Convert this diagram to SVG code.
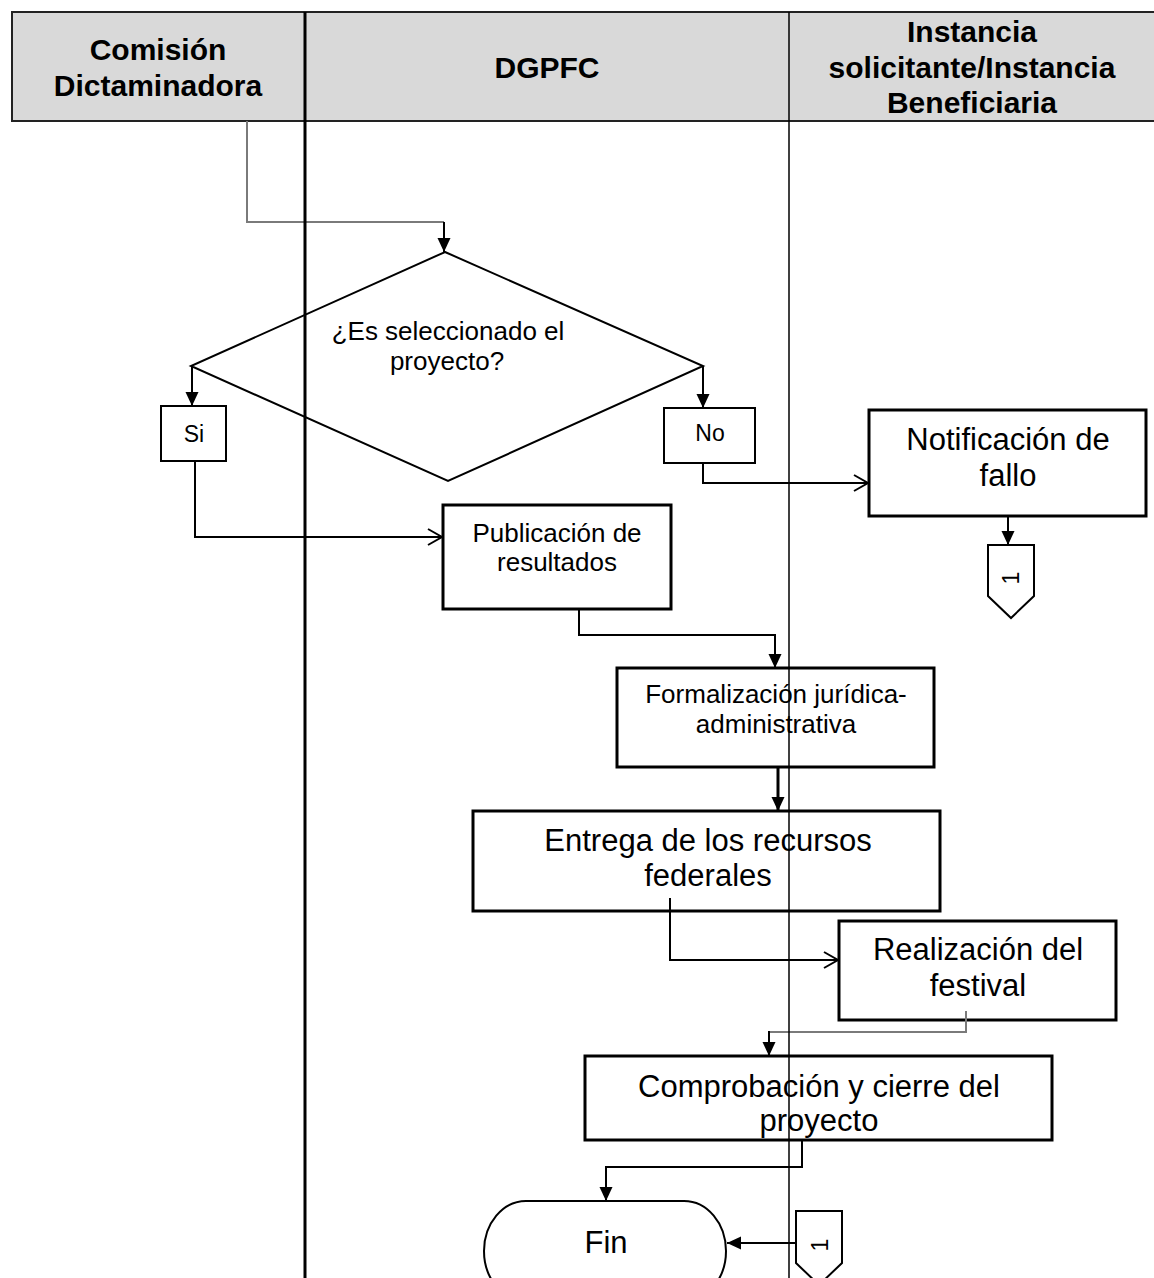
<svg xmlns="http://www.w3.org/2000/svg" width="1154" height="1278" viewBox="0 0 1154 1278">
<style>
  .hdr { font-family: "Liberation Sans", Arial, sans-serif; font-weight: bold; font-size: 30px; fill: #000; text-anchor: middle; }
  .t { font-family: "Liberation Sans", Arial, sans-serif; fill: #000; text-anchor: middle; }
  .big { font-size: 31px; }
  .mid { font-size: 26px; }
  .sm { font-size: 23px; }
  .box { fill: #fff; stroke: #000; stroke-width: 3; }
  .thin { fill: #fff; stroke: #000; stroke-width: 2; }
  .ln { fill: none; stroke: #000; stroke-width: 2; }
  .gl { fill: none; stroke: #7a7a7a; stroke-width: 2; }
</style>
<defs>
  <marker id="af" markerUnits="userSpaceOnUse" markerWidth="14" markerHeight="14" refX="14" refY="7" orient="auto">
    <path d="M0,0.5 L14,7 L0,13.5 Z" fill="#000"/>
  </marker>
  <marker id="ao" markerUnits="userSpaceOnUse" markerWidth="18" markerHeight="20" refX="16" refY="10" orient="auto">
    <path d="M2,2 L16,10 L2,18" fill="none" stroke="#000" stroke-width="2"/>
  </marker>
</defs>
<rect width="1154" height="1278" fill="#fff"/>

<g id="header">
  <rect x="12" y="12" width="1160" height="109" fill="#d9d9d9" stroke="#222" stroke-width="2"/>
  <text class="hdr" x="158" y="60">Comisión</text>
  <text class="hdr" x="158" y="96">Dictaminadora</text>
  <text class="hdr" x="547" y="78">DGPFC</text>
  <text class="hdr" x="972" y="42">Instancia</text>
  <text class="hdr" x="972" y="78">solicitante/Instancia</text>
  <text class="hdr" x="972" y="113">Beneficiaria</text>
</g>

<g id="decision">
  <path d="M445,252 L703,366 L448,481 L191,366 Z" fill="#fff" stroke="#000" stroke-width="2"/>
  <text class="t mid" x="448" y="340">¿Es seleccionado el</text>
  <text class="t mid" x="447" y="370">proyecto?</text>
</g>
<g id="si">
  <rect class="thin" x="161" y="406" width="65" height="55"/>
  <text class="t sm" x="194" y="442">Si</text>
</g>
<g id="no">
  <rect class="thin" x="664" y="408" width="91" height="55"/>
  <text class="t sm" x="710" y="441">No</text>
</g>
<g id="notificacion">
  <rect class="box" x="869" y="410" width="277" height="106"/>
  <text class="t big" x="1008" y="450">Notificación de</text>
  <text class="t big" x="1008" y="486">fallo</text>
</g>
<g id="conector1">
  <path d="M988,545 H1034 V596 L1011,618 L988,596 Z" class="thin"/>
  <text class="t" font-size="23" transform="translate(1011,578) rotate(-90)" x="0" y="8">1</text>
</g>
<g id="publicacion">
  <rect class="box" x="443" y="505" width="228" height="104"/>
  <text class="t mid" x="557" y="542">Publicación de</text>
  <text class="t mid" x="557" y="571">resultados</text>
</g>
<g id="formalizacion">
  <rect class="box" x="617" y="668" width="317" height="99"/>
  <text class="t mid" x="776" y="703">Formalización jurídica-</text>
  <text class="t mid" x="776" y="733">administrativa</text>
</g>
<g id="entrega">
  <rect class="box" x="473" y="811" width="467" height="100"/>
  <text class="t big" x="708" y="851">Entrega de los recursos</text>
  <text class="t big" x="708" y="886">federales</text>
</g>
<g id="realizacion">
  <rect class="box" x="839" y="921" width="277" height="99"/>
  <text class="t big" x="978" y="960">Realización del</text>
  <text class="t big" x="978" y="996">festival</text>
</g>
<g id="comprobacion">
  <rect class="box" x="585" y="1056" width="467" height="84"/>
  <text class="t big" x="819" y="1097">Comprobación y cierre del</text>
  <text class="t big" x="819" y="1131">proyecto</text>
</g>
<g id="fin">
  <rect x="484" y="1201" width="242" height="100" rx="42" ry="50" fill="#fff" stroke="#000" stroke-width="2"/>
  <text class="t big" x="606" y="1253">Fin</text>
</g>
<g id="conector2">
  <path d="M796,1211 H842 V1263 L819,1285 L796,1263 Z" class="thin"/>
  <text class="t" font-size="23" transform="translate(820,1245) rotate(-90)" x="0" y="8">1</text>
</g>

<g id="connectors">
  <path class="gl" d="M247,121 V222 H444"/>
  <path class="ln" d="M444,222 V252" marker-end="url(#af)"/>
  <path class="ln" d="M192,366 V406" marker-end="url(#af)"/>
  <path class="ln" d="M703,366 V408" marker-end="url(#af)"/>
  <path class="ln" d="M195,461 V537 H442" marker-end="url(#ao)"/>
  <path class="ln" d="M703,463 V483 H868" marker-end="url(#ao)"/>
  <path class="ln" d="M1008,516 V545" marker-end="url(#af)"/>
  <path class="ln" d="M579,609 V635 H775 V668" marker-end="url(#af)"/>
  <path d="M778,767 V811" fill="none" stroke="#000" stroke-width="3" marker-end="url(#af)"/>
  <path class="ln" d="M670,898 V960 H838" marker-end="url(#ao)"/>
  <path class="gl" d="M966,1011 V1032 H769"/>
  <path class="ln" d="M769,1031 V1056" marker-end="url(#af)"/>
  <path class="ln" d="M802,1141 V1167 H606 V1201" marker-end="url(#af)"/>
  <path class="ln" d="M796,1243 H727" marker-end="url(#af)"/>
</g>

<g id="lanes">
  <line x1="305" y1="12" x2="305" y2="1278" stroke="#000" stroke-width="3"/>
  <line x1="789" y1="12" x2="789" y2="1278" stroke="#000" stroke-width="1.5"/>
</g>
</svg>
